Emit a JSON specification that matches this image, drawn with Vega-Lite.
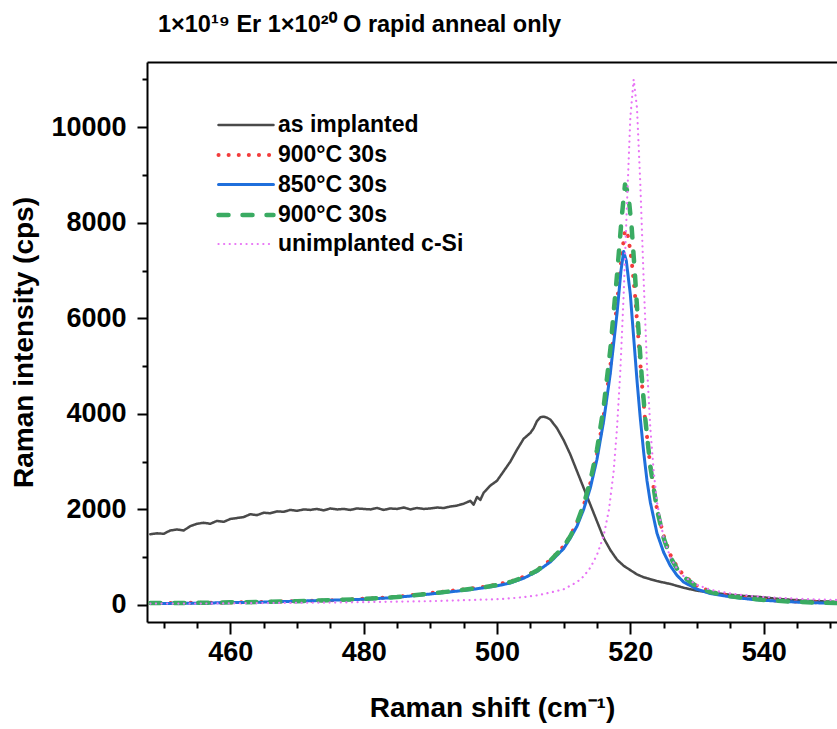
{
  "$schema": "https://vega.github.io/schema/vega-lite/v6.json",
  "width": 690,
  "height": 560,
  "autosize": "none",
  "padding": {"left": 147, "top": 62, "right": 0, "bottom": 107},
  "background": "white",
  "title": {
    "text": "1×10¹⁹ Er 1×10²⁰ O rapid anneal only",
    "anchor": "start",
    "frame": "group",
    "dx": 11,
    "offset": 26,
    "font": "Liberation Sans",
    "fontSize": 23.5,
    "fontWeight": "bold",
    "color": "black"
  },
  "config": {
    "view": {"stroke": null},
    "font": "Liberation Sans",
    "axis": {
      "grid": false,
      "domainColor": "black",
      "domainWidth": 2,
      "tickColor": "black",
      "tickWidth": 2,
      "labelFont": "Liberation Sans",
      "labelFontWeight": "bold",
      "labelColor": "black",
      "labelFontSize": 27,
      "titleFont": "Liberation Sans",
      "titleFontWeight": "bold",
      "titleColor": "black",
      "titleFontSize": 28,
      "labelOverlap": false,
      "labelFlush": false
    }
  },
  "data": {
    "values": [
      {"s": "as implanted", "x": 448, "y": 1480}, {"s": "as implanted", "x": 449, "y": 1500}, {"s": "as implanted", "x": 450, "y": 1490},
      {"s": "as implanted", "x": 451, "y": 1560}, {"s": "as implanted", "x": 452, "y": 1580}, {"s": "as implanted", "x": 453, "y": 1560},
      {"s": "as implanted", "x": 454, "y": 1650}, {"s": "as implanted", "x": 455, "y": 1700}, {"s": "as implanted", "x": 456, "y": 1720},
      {"s": "as implanted", "x": 457, "y": 1700}, {"s": "as implanted", "x": 458, "y": 1760}, {"s": "as implanted", "x": 459, "y": 1740},
      {"s": "as implanted", "x": 460, "y": 1800}, {"s": "as implanted", "x": 461, "y": 1820}, {"s": "as implanted", "x": 462, "y": 1840},
      {"s": "as implanted", "x": 463, "y": 1900}, {"s": "as implanted", "x": 464, "y": 1880}, {"s": "as implanted", "x": 465, "y": 1930},
      {"s": "as implanted", "x": 466, "y": 1920}, {"s": "as implanted", "x": 467, "y": 1960}, {"s": "as implanted", "x": 468, "y": 1950},
      {"s": "as implanted", "x": 469, "y": 1990}, {"s": "as implanted", "x": 470, "y": 1970}, {"s": "as implanted", "x": 471, "y": 2000},
      {"s": "as implanted", "x": 472, "y": 1990}, {"s": "as implanted", "x": 473, "y": 2010}, {"s": "as implanted", "x": 474, "y": 1980},
      {"s": "as implanted", "x": 475, "y": 2020}, {"s": "as implanted", "x": 476, "y": 2000}, {"s": "as implanted", "x": 477, "y": 2010},
      {"s": "as implanted", "x": 478, "y": 1990}, {"s": "as implanted", "x": 479, "y": 2020}, {"s": "as implanted", "x": 480, "y": 2010},
      {"s": "as implanted", "x": 481, "y": 2000}, {"s": "as implanted", "x": 482, "y": 2030}, {"s": "as implanted", "x": 483, "y": 1990},
      {"s": "as implanted", "x": 484, "y": 2020}, {"s": "as implanted", "x": 485, "y": 2010}, {"s": "as implanted", "x": 486, "y": 2040},
      {"s": "as implanted", "x": 487, "y": 2000}, {"s": "as implanted", "x": 488, "y": 2030}, {"s": "as implanted", "x": 489, "y": 2010},
      {"s": "as implanted", "x": 490, "y": 2020}, {"s": "as implanted", "x": 491, "y": 2040}, {"s": "as implanted", "x": 492, "y": 2030},
      {"s": "as implanted", "x": 493, "y": 2060}, {"s": "as implanted", "x": 494, "y": 2080}, {"s": "as implanted", "x": 495, "y": 2120},
      {"s": "as implanted", "x": 496, "y": 2180}, {"s": "as implanted", "x": 496.5, "y": 2100}, {"s": "as implanted", "x": 497, "y": 2260},
      {"s": "as implanted", "x": 497.5, "y": 2200}, {"s": "as implanted", "x": 498, "y": 2350}, {"s": "as implanted", "x": 499, "y": 2500},
      {"s": "as implanted", "x": 500, "y": 2600}, {"s": "as implanted", "x": 501, "y": 2800}, {"s": "as implanted", "x": 502, "y": 3000},
      {"s": "as implanted", "x": 503, "y": 3250}, {"s": "as implanted", "x": 504, "y": 3480}, {"s": "as implanted", "x": 505, "y": 3600},
      {"s": "as implanted", "x": 505.5, "y": 3700}, {"s": "as implanted", "x": 506, "y": 3850}, {"s": "as implanted", "x": 506.5, "y": 3930},
      {"s": "as implanted", "x": 507, "y": 3940}, {"s": "as implanted", "x": 507.5, "y": 3920}, {"s": "as implanted", "x": 508, "y": 3880},
      {"s": "as implanted", "x": 509, "y": 3700}, {"s": "as implanted", "x": 510, "y": 3450}, {"s": "as implanted", "x": 511, "y": 3150},
      {"s": "as implanted", "x": 512, "y": 2800}, {"s": "as implanted", "x": 513, "y": 2450}, {"s": "as implanted", "x": 514, "y": 2100},
      {"s": "as implanted", "x": 515, "y": 1750}, {"s": "as implanted", "x": 516, "y": 1400}, {"s": "as implanted", "x": 517, "y": 1150},
      {"s": "as implanted", "x": 518, "y": 950}, {"s": "as implanted", "x": 519, "y": 820}, {"s": "as implanted", "x": 520, "y": 730},
      {"s": "as implanted", "x": 521, "y": 640}, {"s": "as implanted", "x": 522, "y": 580}, {"s": "as implanted", "x": 523, "y": 540},
      {"s": "as implanted", "x": 524, "y": 500}, {"s": "as implanted", "x": 525, "y": 470}, {"s": "as implanted", "x": 526, "y": 440},
      {"s": "as implanted", "x": 527, "y": 400}, {"s": "as implanted", "x": 528, "y": 360}, {"s": "as implanted", "x": 529, "y": 330},
      {"s": "as implanted", "x": 530, "y": 300}, {"s": "as implanted", "x": 531, "y": 280}, {"s": "as implanted", "x": 532, "y": 260},
      {"s": "as implanted", "x": 534, "y": 230}, {"s": "as implanted", "x": 536, "y": 200}, {"s": "as implanted", "x": 538, "y": 180},
      {"s": "as implanted", "x": 540, "y": 160}, {"s": "as implanted", "x": 542, "y": 130}, {"s": "as implanted", "x": 544, "y": 110},
      {"s": "as implanted", "x": 546, "y": 90}, {"s": "as implanted", "x": 548, "y": 80}, {"s": "as implanted", "x": 550, "y": 70},
      {"s": "as implanted", "x": 551, "y": 60},

      {"s": "900°C 30s (a)", "x": 448, "y": 40}, {"s": "900°C 30s (a)", "x": 455, "y": 45}, {"s": "900°C 30s (a)", "x": 460, "y": 50},
      {"s": "900°C 30s (a)", "x": 465, "y": 65}, {"s": "900°C 30s (a)", "x": 470, "y": 80}, {"s": "900°C 30s (a)", "x": 475, "y": 100},
      {"s": "900°C 30s (a)", "x": 480, "y": 130}, {"s": "900°C 30s (a)", "x": 485, "y": 170}, {"s": "900°C 30s (a)", "x": 490, "y": 250},
      {"s": "900°C 30s (a)", "x": 494, "y": 310}, {"s": "900°C 30s (a)", "x": 498, "y": 380}, {"s": "900°C 30s (a)", "x": 500, "y": 430},
      {"s": "900°C 30s (a)", "x": 502, "y": 490}, {"s": "900°C 30s (a)", "x": 504, "y": 590}, {"s": "900°C 30s (a)", "x": 506, "y": 730},
      {"s": "900°C 30s (a)", "x": 508, "y": 940}, {"s": "900°C 30s (a)", "x": 510, "y": 1230}, {"s": "900°C 30s (a)", "x": 511, "y": 1450},
      {"s": "900°C 30s (a)", "x": 512, "y": 1720}, {"s": "900°C 30s (a)", "x": 513, "y": 2080}, {"s": "900°C 30s (a)", "x": 514, "y": 2550},
      {"s": "900°C 30s (a)", "x": 515, "y": 3150}, {"s": "900°C 30s (a)", "x": 516, "y": 3950}, {"s": "900°C 30s (a)", "x": 517, "y": 5000},
      {"s": "900°C 30s (a)", "x": 518, "y": 6300}, {"s": "900°C 30s (a)", "x": 518.7, "y": 7300}, {"s": "900°C 30s (a)", "x": 519.2, "y": 7850},
      {"s": "900°C 30s (a)", "x": 519.7, "y": 7700}, {"s": "900°C 30s (a)", "x": 520.2, "y": 7200}, {"s": "900°C 30s (a)", "x": 520.7, "y": 6500},
      {"s": "900°C 30s (a)", "x": 521.2, "y": 5600}, {"s": "900°C 30s (a)", "x": 521.7, "y": 4700}, {"s": "900°C 30s (a)", "x": 522.2, "y": 3900},
      {"s": "900°C 30s (a)", "x": 523, "y": 2900}, {"s": "900°C 30s (a)", "x": 524, "y": 2000}, {"s": "900°C 30s (a)", "x": 525, "y": 1450},
      {"s": "900°C 30s (a)", "x": 526, "y": 1050}, {"s": "900°C 30s (a)", "x": 527, "y": 800}, {"s": "900°C 30s (a)", "x": 528, "y": 620},
      {"s": "900°C 30s (a)", "x": 530, "y": 400}, {"s": "900°C 30s (a)", "x": 532, "y": 280}, {"s": "900°C 30s (a)", "x": 535, "y": 190},
      {"s": "900°C 30s (a)", "x": 538, "y": 140}, {"s": "900°C 30s (a)", "x": 541, "y": 100}, {"s": "900°C 30s (a)", "x": 545, "y": 70},
      {"s": "900°C 30s (a)", "x": 548, "y": 55}, {"s": "900°C 30s (a)", "x": 551, "y": 45},

      {"s": "850°C 30s", "x": 448, "y": 30}, {"s": "850°C 30s", "x": 452, "y": 35}, {"s": "850°C 30s", "x": 456, "y": 40},
      {"s": "850°C 30s", "x": 460, "y": 50}, {"s": "850°C 30s", "x": 465, "y": 60}, {"s": "850°C 30s", "x": 470, "y": 80},
      {"s": "850°C 30s", "x": 475, "y": 100}, {"s": "850°C 30s", "x": 480, "y": 120}, {"s": "850°C 30s", "x": 484, "y": 150},
      {"s": "850°C 30s", "x": 488, "y": 200}, {"s": "850°C 30s", "x": 492, "y": 260}, {"s": "850°C 30s", "x": 496, "y": 320},
      {"s": "850°C 30s", "x": 500, "y": 400}, {"s": "850°C 30s", "x": 502, "y": 460}, {"s": "850°C 30s", "x": 504, "y": 560},
      {"s": "850°C 30s", "x": 506, "y": 700}, {"s": "850°C 30s", "x": 508, "y": 900}, {"s": "850°C 30s", "x": 510, "y": 1180},
      {"s": "850°C 30s", "x": 511, "y": 1400}, {"s": "850°C 30s", "x": 512, "y": 1650}, {"s": "850°C 30s", "x": 513, "y": 2000},
      {"s": "850°C 30s", "x": 514, "y": 2450}, {"s": "850°C 30s", "x": 515, "y": 3050}, {"s": "850°C 30s", "x": 516, "y": 3850},
      {"s": "850°C 30s", "x": 517, "y": 4850}, {"s": "850°C 30s", "x": 518, "y": 6100}, {"s": "850°C 30s", "x": 518.6, "y": 7000},
      {"s": "850°C 30s", "x": 519, "y": 7400}, {"s": "850°C 30s", "x": 519.4, "y": 7200}, {"s": "850°C 30s", "x": 520, "y": 6500},
      {"s": "850°C 30s", "x": 520.5, "y": 5600}, {"s": "850°C 30s", "x": 521, "y": 4700}, {"s": "850°C 30s", "x": 521.5, "y": 3900},
      {"s": "850°C 30s", "x": 522, "y": 3200}, {"s": "850°C 30s", "x": 522.5, "y": 2600}, {"s": "850°C 30s", "x": 523, "y": 2150},
      {"s": "850°C 30s", "x": 524, "y": 1500}, {"s": "850°C 30s", "x": 525, "y": 1100}, {"s": "850°C 30s", "x": 526, "y": 820},
      {"s": "850°C 30s", "x": 527, "y": 620}, {"s": "850°C 30s", "x": 528, "y": 480}, {"s": "850°C 30s", "x": 530, "y": 330},
      {"s": "850°C 30s", "x": 532, "y": 240}, {"s": "850°C 30s", "x": 535, "y": 170}, {"s": "850°C 30s", "x": 538, "y": 120},
      {"s": "850°C 30s", "x": 541, "y": 90}, {"s": "850°C 30s", "x": 545, "y": 60}, {"s": "850°C 30s", "x": 548, "y": 45},
      {"s": "850°C 30s", "x": 551, "y": 35},

      {"s": "900°C 30s (b)", "x": 448, "y": 40}, {"s": "900°C 30s (b)", "x": 455, "y": 45}, {"s": "900°C 30s (b)", "x": 460, "y": 55},
      {"s": "900°C 30s (b)", "x": 465, "y": 65}, {"s": "900°C 30s (b)", "x": 470, "y": 80}, {"s": "900°C 30s (b)", "x": 475, "y": 100},
      {"s": "900°C 30s (b)", "x": 480, "y": 125}, {"s": "900°C 30s (b)", "x": 485, "y": 165}, {"s": "900°C 30s (b)", "x": 490, "y": 240},
      {"s": "900°C 30s (b)", "x": 494, "y": 300}, {"s": "900°C 30s (b)", "x": 498, "y": 370}, {"s": "900°C 30s (b)", "x": 500, "y": 420},
      {"s": "900°C 30s (b)", "x": 502, "y": 480}, {"s": "900°C 30s (b)", "x": 504, "y": 580}, {"s": "900°C 30s (b)", "x": 506, "y": 720},
      {"s": "900°C 30s (b)", "x": 508, "y": 930}, {"s": "900°C 30s (b)", "x": 510, "y": 1220}, {"s": "900°C 30s (b)", "x": 511, "y": 1440},
      {"s": "900°C 30s (b)", "x": 512, "y": 1720}, {"s": "900°C 30s (b)", "x": 513, "y": 2100}, {"s": "900°C 30s (b)", "x": 514, "y": 2600},
      {"s": "900°C 30s (b)", "x": 515, "y": 3250}, {"s": "900°C 30s (b)", "x": 516, "y": 4150}, {"s": "900°C 30s (b)", "x": 517, "y": 5350},
      {"s": "900°C 30s (b)", "x": 518, "y": 6900}, {"s": "900°C 30s (b)", "x": 518.7, "y": 8100}, {"s": "900°C 30s (b)", "x": 519.2, "y": 8800},
      {"s": "900°C 30s (b)", "x": 519.7, "y": 8600}, {"s": "900°C 30s (b)", "x": 520.2, "y": 7900}, {"s": "900°C 30s (b)", "x": 520.7, "y": 6900},
      {"s": "900°C 30s (b)", "x": 521.2, "y": 5800}, {"s": "900°C 30s (b)", "x": 521.7, "y": 4800}, {"s": "900°C 30s (b)", "x": 522.2, "y": 3950},
      {"s": "900°C 30s (b)", "x": 523, "y": 2900}, {"s": "900°C 30s (b)", "x": 524, "y": 2000}, {"s": "900°C 30s (b)", "x": 525, "y": 1400},
      {"s": "900°C 30s (b)", "x": 526, "y": 1000}, {"s": "900°C 30s (b)", "x": 527, "y": 760}, {"s": "900°C 30s (b)", "x": 528, "y": 590},
      {"s": "900°C 30s (b)", "x": 530, "y": 380}, {"s": "900°C 30s (b)", "x": 532, "y": 270}, {"s": "900°C 30s (b)", "x": 535, "y": 180},
      {"s": "900°C 30s (b)", "x": 538, "y": 130}, {"s": "900°C 30s (b)", "x": 541, "y": 95}, {"s": "900°C 30s (b)", "x": 545, "y": 65},
      {"s": "900°C 30s (b)", "x": 548, "y": 50}, {"s": "900°C 30s (b)", "x": 551, "y": 40},

      {"s": "unimplanted c-Si", "x": 448, "y": 30}, {"s": "unimplanted c-Si", "x": 455, "y": 30}, {"s": "unimplanted c-Si", "x": 460, "y": 35},
      {"s": "unimplanted c-Si", "x": 465, "y": 40}, {"s": "unimplanted c-Si", "x": 470, "y": 45}, {"s": "unimplanted c-Si", "x": 475, "y": 50},
      {"s": "unimplanted c-Si", "x": 480, "y": 60}, {"s": "unimplanted c-Si", "x": 485, "y": 70}, {"s": "unimplanted c-Si", "x": 490, "y": 80},
      {"s": "unimplanted c-Si", "x": 495, "y": 100}, {"s": "unimplanted c-Si", "x": 500, "y": 120}, {"s": "unimplanted c-Si", "x": 503, "y": 150},
      {"s": "unimplanted c-Si", "x": 506, "y": 200}, {"s": "unimplanted c-Si", "x": 508, "y": 260}, {"s": "unimplanted c-Si", "x": 510, "y": 330},
      {"s": "unimplanted c-Si", "x": 512, "y": 480}, {"s": "unimplanted c-Si", "x": 513, "y": 600}, {"s": "unimplanted c-Si", "x": 514, "y": 780},
      {"s": "unimplanted c-Si", "x": 515, "y": 1050}, {"s": "unimplanted c-Si", "x": 516, "y": 1450}, {"s": "unimplanted c-Si", "x": 516.8, "y": 2000},
      {"s": "unimplanted c-Si", "x": 517.5, "y": 2800}, {"s": "unimplanted c-Si", "x": 518, "y": 3700}, {"s": "unimplanted c-Si", "x": 518.5, "y": 4900},
      {"s": "unimplanted c-Si", "x": 519, "y": 6500}, {"s": "unimplanted c-Si", "x": 519.5, "y": 8400}, {"s": "unimplanted c-Si", "x": 520, "y": 10200},
      {"s": "unimplanted c-Si", "x": 520.5, "y": 11000}, {"s": "unimplanted c-Si", "x": 521, "y": 10400}, {"s": "unimplanted c-Si", "x": 521.5, "y": 8800},
      {"s": "unimplanted c-Si", "x": 522, "y": 6800}, {"s": "unimplanted c-Si", "x": 522.5, "y": 5000}, {"s": "unimplanted c-Si", "x": 523, "y": 3700},
      {"s": "unimplanted c-Si", "x": 523.5, "y": 2800}, {"s": "unimplanted c-Si", "x": 524, "y": 2150}, {"s": "unimplanted c-Si", "x": 525, "y": 1400},
      {"s": "unimplanted c-Si", "x": 526, "y": 1000}, {"s": "unimplanted c-Si", "x": 527, "y": 760}, {"s": "unimplanted c-Si", "x": 528, "y": 600},
      {"s": "unimplanted c-Si", "x": 530, "y": 420}, {"s": "unimplanted c-Si", "x": 532, "y": 320}, {"s": "unimplanted c-Si", "x": 535, "y": 240},
      {"s": "unimplanted c-Si", "x": 538, "y": 190}, {"s": "unimplanted c-Si", "x": 541, "y": 160}, {"s": "unimplanted c-Si", "x": 545, "y": 130},
      {"s": "unimplanted c-Si", "x": 548, "y": 115}, {"s": "unimplanted c-Si", "x": 551, "y": 105}
    ]
  },
  "layer": [
    {
      "mark": {"type": "line", "clip": true, "strokeCap": "round", "strokeJoin": "round"},
      "encoding": {
        "x": {
          "field": "x", "type": "quantitative",
          "scale": {"domain": [447.5, 551], "nice": false, "zero": false},
          "axis": {
            "orient": "bottom",
            "values": [460, 480, 500, 520, 540],
            "tickSize": 12,
            "labelPadding": 5,
            "title": "Raman shift (cm⁻¹)",
            "titlePadding": 29
          }
        },
        "y": {
          "field": "y", "type": "quantitative",
          "scale": {"domain": [-356, 11364], "nice": false, "zero": false},
          "axis": {
            "orient": "left",
            "values": [0, 2000, 4000, 6000, 8000, 10000],
            "format": "d",
            "tickSize": 10,
            "labelPadding": 11,
            "title": "Raman intensity (cps)",
            "titlePadding": 12
          }
        },
        "color": {
          "field": "s", "type": "nominal",
          "scale": {
            "domain": ["as implanted", "900°C 30s (a)", "850°C 30s", "900°C 30s (b)", "unimplanted c-Si"],
            "range": ["#4a4a4a", "#f23c3c", "#1f6fdc", "#3aab62", "#e873f5"]
          },
          "legend": {
            "orient": "none",
            "legendX": 83,
            "legendY": 48,
            "title": null,
            "symbolType": "M-2,0H2",
            "symbolSize": 756,
            "symbolFillColor": "transparent",
            "labelFont": "Liberation Sans",
            "labelFontSize": 23,
            "labelFontWeight": "bold",
            "labelColor": "black",
            "labelOffset": 16,
            "rowPadding": 2,
            "labelExpr": "replace(replace(datum.label, ' (a)', ''), ' (b)', '')",
            "labelLimit": 400,
            "encode": {"symbols": {"update": {"strokeCap": {"value": "round"}}}}
          }
        },
        "strokeDash": {
          "field": "s", "type": "nominal",
          "scale": {
            "domain": ["as implanted", "900°C 30s (a)", "850°C 30s", "900°C 30s (b)", "unimplanted c-Si"],
            "range": [[1, 0], [0.1, 10], [1, 0], [10, 14], [0.1, 5.5]]
          }
        },
        "strokeWidth": {
          "field": "s", "type": "nominal",
          "scale": {
            "type": "ordinal",
            "domain": ["as implanted", "900°C 30s (a)", "850°C 30s", "900°C 30s (b)", "unimplanted c-Si"],
            "range": [2.5, 4, 3, 4.5, 2.2]
          }
        }
      }
    },
    {
      "mark": {"type": "line", "strokeOpacity": 0},
      "encoding": {
        "x": {
          "field": "x", "type": "quantitative",
          "axis": {
            "orient": "bottom",
            "values": [450, 455, 465, 470, 475, 485, 490, 495, 505, 510, 515, 525, 530, 535, 545, 550],
            "tickSize": 6,
            "labels": false,
            "domain": false,
            "title": null
          }
        },
        "y": {
          "field": "y", "type": "quantitative",
          "axis": {
            "orient": "left",
            "values": [1000, 3000, 5000, 7000, 9000, 11000],
            "tickSize": 5,
            "labels": false,
            "domain": false,
            "title": null
          }
        },
        "detail": {"field": "s", "type": "nominal"}
      }
    },
    {
      "mark": {"type": "line", "strokeOpacity": 0},
      "encoding": {
        "x": {
          "field": "x", "type": "quantitative",
          "axis": {
            "orient": "top",
            "ticks": false,
            "labels": false,
            "domain": true,
            "title": null
          }
        },
        "y": {"field": "y", "type": "quantitative", "axis": null},
        "detail": {"field": "s", "type": "nominal"}
      }
    }
  ],
  "resolve": {"axis": {"x": "independent", "y": "independent"}}
}
